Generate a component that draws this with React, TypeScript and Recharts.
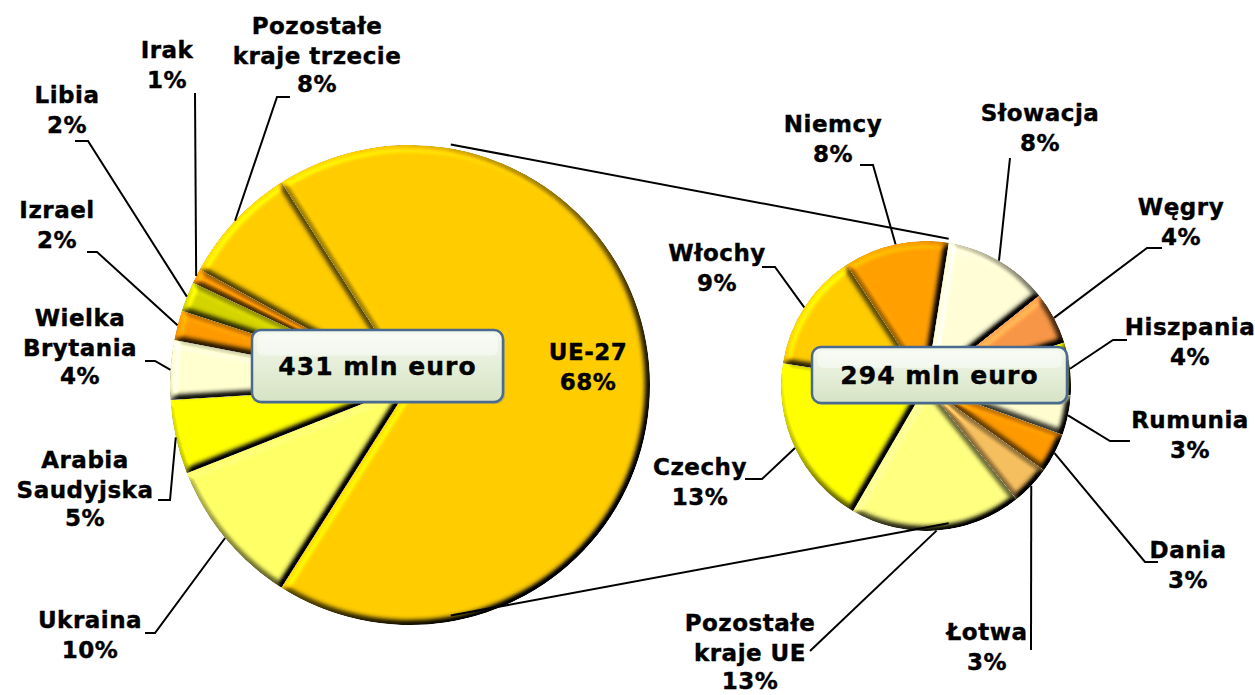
import { PieChart, Pie, Cell } from 'recharts';

// left pie: imports by partner country (share of total, %)
const LEFT_NAMES = [
  'UE-27',
  'Ukraina',
  'Arabia\nSaudyjska',
  'Wielka\nBrytania',
  'Izrael',
  'Libia',
  'Irak',
  'Pozostałe\nkraje trzecie',
];
const LEFT_VALUES = [68, 10, 5, 4, 2, 2, 1, 8];
const LEFT_COLORS = ['#FFCC00', '#FFFF66', '#FFFF00', '#FFFFD0', '#FF9900', '#D4D400', '#FF9900', '#FFCC00'];

// right pie: breakdown of UE-27
const RIGHT_NAMES = [
  'Niemcy',
  'Słowacja',
  'Węgry',
  'Hiszpania',
  'Rumunia',
  'Dania',
  'Łotwa',
  'Pozostałe\nkraje UE',
  'Czechy',
  'Włochy',
];
const RIGHT_VALUES = [8, 8, 4, 4, 3, 3, 3, 13, 13, 9];
const RIGHT_COLORS = ['#FFA000', '#FFFDD6', '#F79646', '#FFFF00', '#FFFDD0', '#FF9900', '#F5BE5E', '#FFFF80', '#FFFF00', '#FFCC00'];

const LEFT_TOTAL = '431 mln euro';
const RIGHT_TOTAL = '294 mln euro';

const leftData = LEFT_NAMES.map((name, i) => ({ name, value: LEFT_VALUES[i] }));
const rightData = RIGHT_NAMES.map((name, i) => ({ name, value: RIGHT_VALUES[i] }));

const W = 1255;
const H = 695;
const L = { cx: 405, cy: 380, r: 240 };
const R = { cx: 921, cy: 381, r: 145 };
const RAD = Math.PI / 180;
const FONT = '"DejaVu Sans", Verdana, sans-serif';
const LINE_H = 29.5;

// label text position (centre of first line) and leader elbow, relative to pie centre
type LabelPos = { dx: number; dy: number; path?: number[][] };
const LEFT_LABEL_POS: LabelPos[] = [
  { dx: 178, dy: -28 },
  { dx: -320, dy: 240, path: [[-265, 248], [-255, 248]] },
  { dx: -325, dy: 80, path: [[-252, 115], [-240, 115]] },
  { dx: -330, dy: -62, path: [[-265, -24], [-255, -24]] },
  { dx: -353, dy: -170, path: [[-323, -133], [-313, -133]] },
  { dx: -343, dy: -285, path: [[-335, -244], [-322, -244]] },
  { dx: -243, dy: -330, path: [[-215, -292]] },
  { dx: -93, dy: -354, path: [[-120, -288], [-133, -288]] },
];
const RIGHT_LABEL_POS: LabelPos[] = [
  { dx: -93, dy: -257, path: [[-66, -221], [-53, -221]] },
  { dx: 114, dy: -268, path: [[84, -228]] },
  { dx: 255, dy: -174, path: [[236, -138], [221, -138]] },
  { dx: 264, dy: -54, path: [[201, -46], [187, -46]] },
  { dx: 264, dy: 39, path: [[204, 55], [184, 55]] },
  { dx: 262, dy: 169, path: [[232, 176], [219, 176]] },
  { dx: 61, dy: 251, path: [[105, 264]] },
  { dx: -176, dy: 242, path: [[-116, 265]] },
  { dx: -226, dy: 86, path: [[-181, 93], [-164, 93]] },
  { dx: -209, dy: -128, path: [[-164, -119], [-151, -119]] },
];

const makeLabel = (layout: LabelPos[]) => (props: any) => {
  const { cx, cy, midAngle, outerRadius, index, value } = props;
  const name = props.name ?? props.payload?.name;
  const pos = layout[index];
  const ex = cx + outerRadius * Math.cos(-midAngle * RAD);
  const ey = cy + outerRadius * Math.sin(-midAngle * RAD);
  const lines = [...String(name).split('\n'), `${value}%`];
  const tx = cx + pos.dx;
  const pts = pos.path ? [...pos.path.map(([x, y]) => [cx + x, cy + y]), [ex, ey]] : null;
  return (
    <g key={`lbl-${index}`}>
      {pts && (
        <polyline
          points={pts.map((p) => p.join(',')).join(' ')}
          fill="none"
          stroke="#000"
          strokeWidth={2}
        />
      )}
      <text
        x={tx}
        y={cy + pos.dy + 3}
        textAnchor="middle"
        fontFamily={FONT}
        fontWeight="bold"
        fontSize={23}
        letterSpacing={0.5}
        fill="#000"
        stroke="#000"
        strokeWidth={0.4}
      >
        {lines.map((t, i) => (
          <tspan key={i} x={tx} dy={i === 0 ? 0 : i === 2 ? LINE_H - 1.5 : LINE_H}>
            {t}
          </tspan>
        ))}
      </text>
    </g>
  );
};

const TotalBox = ({ x, y, w, h, text }: { x: number; y: number; w: number; h: number; text: string }) => (
  <g>
    <rect x={x + 2} y={y + 2} width={w} height={h} rx={9} fill="#8C9A7A" opacity={0.5} />
    <rect x={x} y={y} width={w} height={h} rx={9} fill="url(#boxGrad)" stroke="#4A6A90" strokeWidth={2.5} />
    <rect x={x + 5} y={y + 4} width={w - 10} height={h * 0.3} rx={6} fill="#ffffff" opacity={0.45} />
    <text
      x={x + w / 2}
      y={y + h / 2 + 9}
      textAnchor="middle"
      fontFamily={FONT}
      fontWeight="bold"
      fontSize={25}
      letterSpacing={1}
      fill="#000"
      stroke="#000"
      strokeWidth={0.4}
    >
      {text}
    </text>
  </g>
);

const polar = (c: { cx: number; cy: number; r: number }, deg: number) => [
  c.cx + c.r * Math.cos(-deg * RAD),
  c.cy + c.r * Math.sin(-deg * RAD),
];

export default function App() {
  const leftStart = (LEFT_VALUES[0] / 100) * 180;
  const conn = 79;
  const [t1x, t1y] = polar(L, conn);
  const [t2x, t2y] = polar(R, conn);
  const [b1x, b1y] = polar(L, -conn);
  const [b2x, b2y] = polar(R, -conn);

  return (
    <div style={{ position: 'absolute', left: 0, top: 0, width: W, height: H, background: '#fff' }}>
      <PieChart width={W} height={H}>
        <defs>
          <filter id="bevel" x="-5%" y="-5%" width="110%" height="110%" colorInterpolationFilters="sRGB">
            <feGaussianBlur in="SourceAlpha" stdDeviation="3.5" result="b" />
            <feDiffuseLighting in="b" surfaceScale="8" diffuseConstant="1" lightingColor="#ffffff" result="l">
              <feDistantLight azimuth="225" elevation="55" />
            </feDiffuseLighting>
            <feComposite in="SourceGraphic" in2="l" operator="arithmetic" k1="1.22" k2="0" k3="0" k4="0" result="c" />
            <feComposite in="c" in2="SourceAlpha" operator="in" />
          </filter>
        </defs>
        <Pie
          data={leftData}
          dataKey="value"
          nameKey="name"
          cx={L.cx}
          cy={L.cy}
          outerRadius={L.r}
          startAngle={leftStart}
          endAngle={leftStart - 360}
          stroke="none"
          label={makeLabel(LEFT_LABEL_POS)}
          labelLine={false}
          isAnimationActive={false}
        >
          {leftData.map((d, i) => (
            <Cell key={d.name} fill={LEFT_COLORS[i]} filter="url(#bevel)" />
          ))}
        </Pie>
        <Pie
          data={rightData}
          dataKey="value"
          nameKey="name"
          cx={R.cx}
          cy={R.cy}
          outerRadius={R.r}
          startAngle={123.3}
          endAngle={123.3 - 360}
          stroke="none"
          label={makeLabel(RIGHT_LABEL_POS)}
          labelLine={false}
          isAnimationActive={false}
        >
          {rightData.map((d, i) => (
            <Cell key={d.name} fill={RIGHT_COLORS[i]} filter="url(#bevel)" />
          ))}
        </Pie>
      </PieChart>
      <svg width={W} height={H} style={{ position: 'absolute', left: 0, top: 0, pointerEvents: 'none' }}>
        <defs>
          <linearGradient id="boxGrad" x1="0" y1="0" x2="0" y2="1">
            <stop offset="0%" stopColor="#F4F9EE" />
            <stop offset="100%" stopColor="#D6E3C3" />
          </linearGradient>
        </defs>
        <line x1={t1x} y1={t1y} x2={t2x} y2={t2y} stroke="#000" strokeWidth={2} />
        <line x1={b1x} y1={b1y} x2={b2x} y2={b2y} stroke="#000" strokeWidth={2} />
        <TotalBox x={252} y={330} w={251} h={72} text={LEFT_TOTAL} />
        <TotalBox x={812} y={347} w={255} h={56} text={RIGHT_TOTAL} />
      </svg>
    </div>
  );
}
